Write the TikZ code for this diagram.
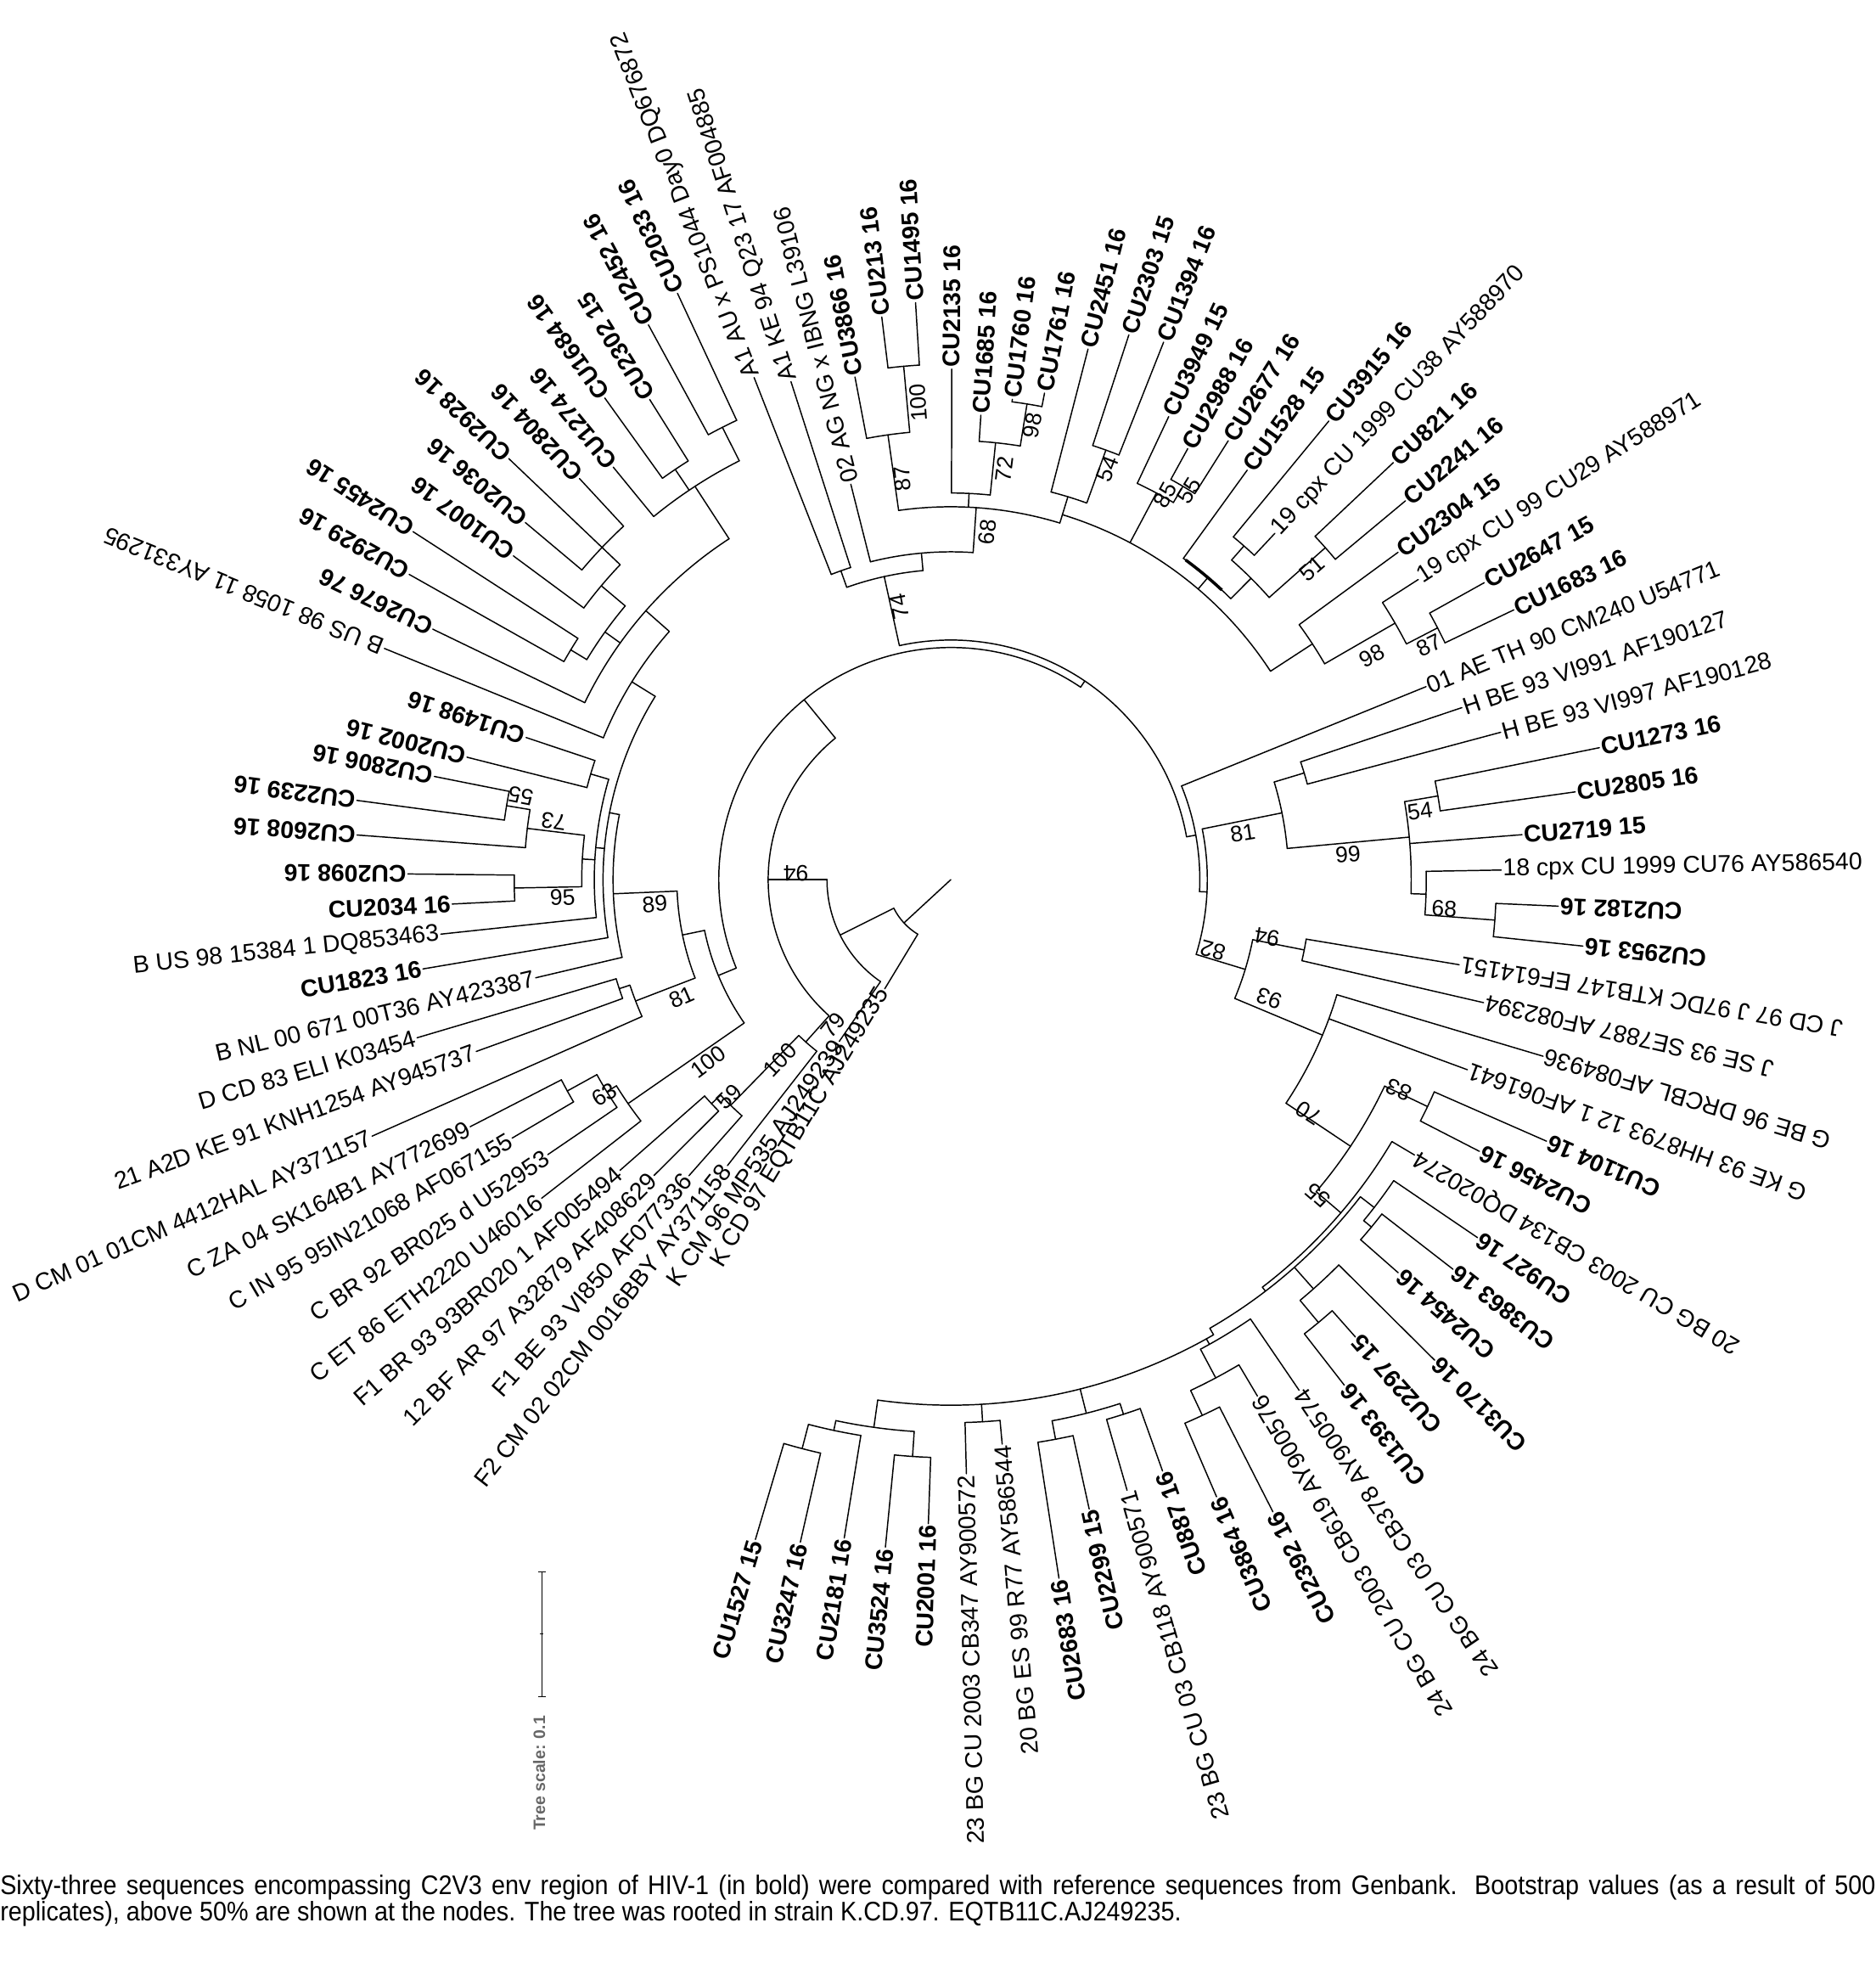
\documentclass[tikz,border=0pt]{standalone}
\usepackage{fontspec}
\setmainfont{Liberation Sans}
\newfontfamily\capfont[FakeStretch=0.907]{Liberation Sans}
\newcommand\labfont{\fontsize{19.3}{21}\selectfont}
\newcommand\bootfont{\fontsize{18}{19}\selectfont}
\definecolor{scg}{gray}{0.4}
\tikzset{
  br/.style={line width=1pt,line cap=round,line join=round},
  lab/.style={inner sep=1.2pt,font=\labfont},
  bsl/.style={inner sep=0pt,font=\bootfont},
}
% leaf: name, angle, parent radius, tip radius, text
\newcommand\tleaf[5]{%
  \draw[br] (#2:#3pt) -- (#2:#4pt);
  \pgfmathsetmacro\tlA{mod(#2+720,360)}%
  \ifdim\tlA pt<180.01pt
    \node[lab,anchor=west,rotate=\tlA] (#1) at (#2:#4pt) {#5};
  \else
    \pgfmathsetmacro\tlB{\tlA-180}%
    \node[lab,anchor=east,rotate=\tlB] (#1) at (#2:#4pt) {#5};
  \fi
}
% internal node: name, stem angle, parent radius, radius, arc from, arc to
\newcommand\tnode[6]{%
  \coordinate (#1) at (#2:#4pt);
  \draw[br] (#2:#3pt) -- (#1);
  \draw[br] (#5:#4pt) arc[start angle=#5, end angle=#6, radius=#4pt];
}
% bootstrap: angle, radius, rotation, text
\newcommand\tboot[4]{\node[bsl,rotate=#3] at (#1:#2pt) {#4};}
\begin{document}
\begin{tikzpicture}[x=1pt,y=1pt]
\fill[white] (-760,-865) rectangle (739,703);
\useasboundingbox (-760,-865) rectangle (739,703);

% ---------- internal nodes ----------
\tnode{root}{222.7}{0}{51}{206.6}{238.8}
\tnode{nA}{206.6}{51}{99}{180}{235.4}
\tnode{n94}{180}{99}{146}{129.2}{228.2}
\tnode{n79}{228.2}{146}{174}{225.7}{232.0}
\tnode{n100f}{225.7}{174}{252}{223.1}{228.5}
\tnode{n59}{223.1}{252}{262}{221.3}{224.9}
\tnode{nP}{129.2}{146}{185.5}{56}{202.4}
\tnode{nL}{202.4}{185.5}{201}{191.65}{214.75}
\tnode{nX}{191.65}{201}{219}{182.4}{201.05}
\tnode{n81l}{201.05}{219}{270}{198.2}{203.9}
\tnode{nd81}{198.2}{270}{279}{196.5}{199.9}
\tnode{nc100}{214.75}{201}{314}{211.65}{217.9}
\tnode{n63}{211.65}{314}{323}{208.85}{214.3}
\tnode{nczi}{208.85}{323}{350}{207.2}{210.5}
\tnode{n89}{182.4}{219}{270}{168.9}{193.3}
\tnode{nb1}{168.9}{270}{278}{148.2}{189.6}
\tnode{nb3}{174.85}{278}{285}{163.65}{186.1}
\tnode{nb2}{176.8}{285}{295}{173.1}{181.1}
\tnode{n95}{181.1}{295}{349}{179.4}{182.8}
\tnode{n73}{173.1}{295}{341}{170.55}{175.7}
\tnode{n55l}{170.55}{341}{360}{168.7}{172.4}
\tnode{nb7}{163.65}{285}{300}{161.5}{165.8}
\tnode{nb6}{148.2}{278}{300}{138.6}{157.8}
\tnode{nb8}{138.6}{300}{325}{123.05}{154.2}
\tnode{nb9}{144.4}{325}{340}{139.95}{148.85}
\tnode{nb10}{148.85}{340}{355}{147.1}{150.6}
\tnode{nb11}{139.95}{340}{365}{136.4}{143.5}
\tnode{nb12}{136.4}{365}{385}{132.8}{140.0}
\tnode{nb13}{123.05}{325}{375}{116.8}{129.3}
\tnode{nb14}{123.9}{375}{395}{122.1}{125.7}
\tnode{nb15}{116.8}{375}{405}{115.0}{118.6}
\tnode{nR}{56}{185.5}{191.5}{10.3}{102.4}
\tnode{n74}{102.4}{191.5}{248}{95.15}{109.6}
\tnode{nA1}{109.6}{248}{262}{107.8}{111.4}
\tnode{nBg}{95.15}{248}{262}{86.1}{104.2}
\tnode{n68}{86.1}{262}{298}{73.0}{98.05}
\tnode{n87}{98.05}{298}{359}{95.25}{100.8}
\tnode{n100}{95.25}{359}{412}{93.5}{97.0}
\tnode{nDt}{87.3}{298}{309}{84.15}{89.9}
\tnode{n72}{84.15}{309}{351}{80.9}{86.3}
\tnode{n98}{80.9}{351}{385}{79.1}{82.7}
\tnode{ncp}{73.0}{298}{305}{33.1}{73.0}
\tnode{nC}{73.0}{305}{320}{70.15}{75.5}
\tnode{n54}{70.15}{320}{365}{68.4}{71.9}
\tnode{n85}{62.0}{305}{350}{59.45}{64.8}
\tnode{n55t}{59.45}{350}{365}{57.7}{61.2}
\tnode{nK}{49.6}{305}{317}{45.1}{54.1}
\draw[line width=2.4pt] (46.9:317pt) arc[start angle=46.9, end angle=53.7, radius=317pt];
\tnode{nH}{45.1}{317}{340}{41.55}{48.7}
\tnode{nG}{48.7}{340}{355}{46.9}{50.5}
\tnode{n51}{41.55}{340}{400}{39.8}{43.3}
\tnode{nI}{33.1}{305}{345}{30.0}{36.2}
\tnode{n98r}{30.0}{345}{410}{27.35}{32.7}
\tnode{n87r}{27.35}{410}{438}{25.6}{29.1}
\tnode{nRS}{10.3}{191.5}{199}{-2.75}{22.1}
\tnode{nRS2}{-2.75}{199}{205}{-16.95}{11.4}
\tnode{n81r}{11.4}{205}{270}{5.3}{16.8}
\tnode{nHb}{16.8}{270}{295}{15.0}{18.6}
\tnode{n99}{5.3}{270}{368}{-1.75}{9.75}
\tnode{n54r}{9.75}{368}{395}{8.0}{11.5}
\tnode{n18}{-1.75}{368}{380}{-4.25}{1.0}
\tnode{n68r}{-4.25}{380}{436}{-6.0}{-2.5}
\tnode{n82}{-16.95}{205}{246}{-22.7}{-11.25}
\tnode{n94r}{-11.25}{246}{288}{-13.0}{-9.5}
\tnode{n93}{-22.7}{246}{322}{-33.7}{-16.6}
\tnode{n70}{-33.7}{322}{384}{-40.5}{-25.45}
\tnode{n83}{-25.45}{384}{422}{-27.2}{-23.7}
\tnode{n55r}{-40.5}{384}{410}{-52.6}{-30.7}
\tnode{nL1}{-52.6}{410}{414}{-60}{-37.75}
\tnode{nT1}{-37.75}{414}{428}{-39.55}{-34.2}
\tnode{nT2}{-39.55}{428}{436}{-41.3}{-37.8}
\tnode{nM2}{-48.45}{414}{437}{-50.3}{-44.8}
\tnode{nT3}{-50.3}{437}{460}{-52.1}{-48.5}
\tnode{nL2}{-60}{414}{420}{-98}{-60}
\tnode{nT4}{-60.9}{420}{425}{-62}{-55.7}
\tnode{nT5}{-62}{425}{451}{-64.85}{-59.3}
\tnode{nT6}{-64.85}{451}{473}{-66.7}{-63.0}
\tnode{nN}{-75.75}{420}{440}{-79.4}{-72.1}
\tnode{nT7}{-79.4}{440}{455}{-81.2}{-77.6}
\tnode{nT8}{-72.1}{440}{449}{-73.9}{-70.3}
\tnode{nT9}{-86.65}{420}{434}{-88.5}{-84.8}
\tnode{nT13}{-98}{420}{442}{-102}{-93.8}
\tnode{nT11}{-102}{442}{450}{-104.65}{-99.2}
\tnode{nT10}{-104.65}{450}{470}{-106.5}{-102.8}
\tnode{nT12}{-93.8}{442}{462}{-95.6}{-92.0}

% ---------- leaves ----------
\tleaf{l00}{-106.5}{470}{550}{\textbf{CU1527 15}}
\tleaf{l01}{-102.8}{470}{543}{\textbf{CU3247 16}}
\tleaf{l02}{-99.2}{450}{533}{\textbf{CU2181 16}}
\tleaf{l03}{-95.6}{462}{536}{\textbf{CU3524 16}}
\tleaf{l04}{-92.0}{462}{515}{\textbf{CU2001 16}}
\tleaf{l05}{-88.5}{434}{475}{23 BG CU 2003 CB347 AY900572}
\tleaf{l06}{-84.8}{434}{453}{20 BG ES 99 R77 AY586544}
\tleaf{l07}{-81.2}{455}{565}{\textbf{CU2683 16}}
\tleaf{l08}{-77.6}{455}{515}{\textbf{CU2299 15}}
\tleaf{l09}{-73.9}{449}{508}{23 BG CU 03 CB118 AY900571}
\tleaf{l10}{-70.3}{449}{502}{\textbf{CU887 16}}
\tleaf{l11}{-66.7}{473}{537}{\textbf{CU3864 16}}
\tleaf{l12}{-63.0}{473}{567}{\textbf{CU2392 16}}
\tleaf{l13}{-59.3}{451}{480}{24 BG CU 2003 CB619 AY900576}
\tleaf{l14}{-55.7}{425}{494}{24 BG CU 03 CB378 AY900574}
\tleaf{l15}{-52.1}{460}{512}{\textbf{CU1393 16}}
\tleaf{l16}{-48.5}{460}{488}{\textbf{CU2297 15}}
\tleaf{l17}{-44.8}{437}{545}{\textbf{CU3170 16}}
\tleaf{l18}{-41.3}{436}{476}{\textbf{CU2454 16}}
\tleaf{l19}{-37.8}{436}{508}{\textbf{CU3863 16}}
\tleaf{l20}{-34.2}{428}{509}{\textbf{CU927 16}}
\tleaf{l21}{-30.7}{410}{431}{20 BG CU 2003 CB134 DQ020274}
\tleaf{l22}{-27.2}{422}{475}{\textbf{CU2456 16}}
\tleaf{l23}{-23.7}{422}{520}{\textbf{CU1104 16}}
\tleaf{l24}{-20.2}{322}{440}{G KE 93 HH8793 12 1 AF061641}
\tleaf{l25}{-16.6}{322}{494}{G BE 96 DRCBL AF084936}
\tleaf{l26}{-13.0}{288}{437}{J SE 93 SE7887 AF082394}
\tleaf{l27}{-9.5}{288}{412}{J CD 97 J 97DC KTB147 EF614151}
\tleaf{l28}{-6.0}{436}{508}{\textbf{CU2953 16}}
\tleaf{l29}{-2.5}{436}{486}{\textbf{CU2182 16}}
\tleaf{l30}{1.0}{380}{440}{18 cpx CU 1999 CU76 AY586540}
\tleaf{l31}{4.5}{368}{458}{\textbf{CU2719 15}}
\tleaf{l32}{8.0}{395}{504}{\textbf{CU2805 16}}
\tleaf{l33}{11.5}{395}{529}{\textbf{CU1273 16}}
\tleaf{l34}{15.0}{295}{455}{H BE 93 VI997 AF190128}
\tleaf{l35}{18.6}{295}{431}{H BE 93 VI991 AF190127}
\tleaf{l36}{22.1}{199}{410}{01 AE TH 90 CM240 U54771}
\tleaf{l37}{25.6}{438}{499}{\textbf{CU1683 16}}
\tleaf{l38}{29.1}{438}{488}{\textbf{CU2647 15}}
\tleaf{l39}{32.7}{410}{444}{19 cpx CU 99 CU29 AY588971}
\tleaf{l40}{36.2}{345}{443}{\textbf{CU2304 15}}
\tleaf{l41}{39.8}{400}{473}{\textbf{CU2241 16}}
\tleaf{l42}{43.3}{400}{486}{\textbf{CU821 16}}
\tleaf{l43}{46.9}{355}{379}{19 cpx CU 1999 CU38 AY588970}
\tleaf{l44}{50.5}{355}{475}{\textbf{CU3915 16}}
\tleaf{l45}{54.1}{317}{404}{\textbf{CU1528 15}}
\tleaf{l46}{57.7}{365}{415}{\textbf{CU2677 16}}
\tleaf{l47}{61.2}{365}{393}{\textbf{CU2988 16}}
\tleaf{l48}{64.8}{350}{409}{\textbf{CU3949 15}}
\tleaf{l49}{68.4}{365}{462}{\textbf{CU1394 16}}
\tleaf{l50}{71.9}{365}{458}{\textbf{CU2303 15}}
\tleaf{l51}{75.5}{320}{438}{\textbf{CU2451 16}}
\tleaf{l52}{79.1}{385}{396}{\textbf{CU1761 16}}
\tleaf{l53}{82.7}{385}{387}{\textbf{CU1760 16}}
\tleaf{l54}{86.3}{351}{372}{\textbf{CU1685 16}}
\tleaf{l55}{89.9}{309}{408}{\textbf{CU2135 16}}
\tleaf{l56}{93.5}{412}{462}{\textbf{CU1495 16}}
\tleaf{l57}{97.0}{412}{453}{\textbf{CU213 16}}
\tleaf{l58}{100.8}{359}{409}{\textbf{CU3866 16}}
\tleaf{l59}{104.2}{262}{326}{02 AG NG x IBNG L39106}
\tleaf{l60}{107.8}{262}{418}{A1 KE 94 Q23 17 AF004885}
\tleaf{l61}{111.4}{262}{431}{A1 AU x PS1044 Day0 DQ676872}
\tleaf{l62}{115.0}{405}{517}{\textbf{CU2033 16}}
\tleaf{l63}{118.6}{405}{505}{\textbf{CU2452 16}}
\tleaf{l64}{122.1}{395}{453}{\textbf{CU2302 15}}
\tleaf{l65}{125.7}{395}{474}{\textbf{CU1684 16}}
\tleaf{l66}{129.3}{375}{426}{\textbf{CU1274 16}}
\tleaf{l67}{132.8}{385}{437}{\textbf{CU2804 16}}
\tleaf{l68}{136.4}{385}{488}{\textbf{CU2928 16}}
\tleaf{l69}{140.0}{385}{444}{\textbf{CU2036 16}}
\tleaf{l70}{143.5}{365}{435}{\textbf{CU1007 16}}
\tleaf{l71}{147.1}{355}{512}{\textbf{CU2455 16}}
\tleaf{l72}{150.6}{355}{497}{\textbf{CU2929 16}}
\tleaf{l73}{154.2}{325}{460}{\textbf{CU2676 76}}
\tleaf{l74}{157.8}{300}{489}{B US 98 1058 11 AY331295}
\tleaf{l75}{161.5}{300}{358}{\textbf{CU1498 16}}
\tleaf{l76}{165.8}{300}{399}{\textbf{CU2002 16}}
\tleaf{l77}{168.7}{360}{421}{\textbf{CU2806 16}}
\tleaf{l78}{172.4}{360}{479}{\textbf{CU2239 16}}
\tleaf{l79}{175.7}{341}{476}{\textbf{CU2608 16}}
\tleaf{l80}{179.4}{349}{434}{\textbf{CU2098 16}}
\tleaf{l81}{182.8}{349}{399}{\textbf{CU2034 16}}
\tleaf{l82}{186.1}{285}{410}{B US 98 15384 1 DQ853463}
\tleaf{l83}{189.6}{278}{428}{\textbf{CU1823 16}}
\tleaf{l84}{193.3}{270}{341}{B NL 00 671 00T36 AY423387}
\tleaf{l85}{196.5}{279}{445}{D CD 83 ELI K03454}
\tleaf{l86}{199.9}{279}{403.5}{21 A2D KE 91 KNH1254 AY945737}
\tleaf{l87}{203.9}{270}{506}{D CM 01 01CM 4412HAL AY371157}
\tleaf{l88}{207.2}{350}{432}{C ZA 04 SK164B1 AY772699}
\tleaf{l89}{210.5}{350}{407}{C IN 95 95IN21068 AF067155}
\tleaf{l90}{214.3}{323}{390}{C BR 92 BR025 d U52953}
\tleaf{l91}{217.9}{314}{414.5}{C ET 86 ETH2220 U46016}
\tleaf{l92}{221.3}{262}{352}{F1 BR 93 93BR020 1 AF005494}
\tleaf{l93}{224.9}{262}{335}{12 BF AR 97 A32879 AF408629}
\tleaf{l94}{228.5}{252}{316}{F1 BE 93 VI850 AF077336}
\tleaf{l95}{232.0}{174}{290}{F2 CM 02 02CM 0016BBY AY371158}
\tleaf{l96}{235.4}{99}{157}{K CM 96 MP535 AJ249239}
\tleaf{l97}{238.8}{51}{102}{K CD 97 EQTB11C AJ249235}

% ---------- bootstrap values ----------
\tboot{177.5}{124}{180}{94}
\tboot{100.6}{222}{101}{74}
\tboot{84.0}{279.4}{84}{68}
\tboot{96.9}{323}{97}{87}
\tboot{93.9}{382}{94}{100}
\tboot{82.6}{331}{83}{72}
\tboot{79.8}{368.8}{80}{98}
\tboot{69.1}{351.3}{69}{54}
\tboot{60.9}{351.8}{61}{85}
\tboot{58.5}{364.5}{58}{55}
\tboot{40.7}{380.8}{41}{51}
\tboot{28.0}{381.2}{28}{98}
\tboot{26.1}{425.9}{26}{87}
\tboot{9.1}{236.3}{9}{81}
\tboot{3.6}{318}{4}{99}
\tboot{8.3}{379}{8}{54}
\tboot{-3.4}{395}{-3}{68}
\tboot{-15.1}{216.9}{165}{82}
\tboot{-10.3}{256.8}{170}{94}
\tboot{-20.4}{272}{160}{93}
\tboot{-33.1}{341.7}{147}{70}
\tboot{-25.1}{395.5}{155}{83}
\tboot{-40.7}{387}{139}{55}
\tboot{184.7}{237.4}{4.7}{89}
\tboot{203.6}{234.8}{23.6}{81}
\tboot{216.9}{242.5}{36.9}{100}
\tboot{211.8}{326}{31.8}{63}
\tboot{224.4}{248}{44.4}{59}
\tboot{226.5}{198.6}{46.5}{100}
\tboot{231.1}{149.6}{51}{79}
\tboot{182.6}{310.7}{2.6}{95}
\tboot{171.7}{320.8}{171.7}{73}
\tboot{169.0}{350.2}{169}{55}

% ---------- tree scale ----------
\coordinate (sct) at (-327,-553);
\coordinate (scb) at (-327,-653);
\draw[line width=0.9pt] (sct) -- (scb);
\draw[line width=0.9pt] ([xshift=-3pt]sct) -- ([xshift=3pt]sct);
\draw[line width=0.9pt] ([xshift=-3pt]scb) -- ([xshift=3pt]scb);
\draw[line width=0.6pt] (-328.5,-603) -- (-325.5,-603);
\node[rotate=90,inner sep=0pt,text=scg,font=\bfseries\fontsize{13.2}{14}\selectfont] (sclab) at (-329,-714) {Tree scale: 0.1};

% ---------- caption ----------
\node[anchor=base west,inner sep=0pt,font=\capfont\fontsize{21.5}{22}\selectfont] (cap1) at (-760,-811) {\makebox[1499pt][s]{Sixty-three sequences encompassing C2V3 env region of HIV-1 (in bold) were compared with reference sequences from Genbank. Bootstrap values (as a result of 500}};
\node[anchor=base west,inner sep=0pt,font=\capfont\fontsize{21.5}{22}\selectfont] (cap2) at (-760,-832) {replicates), above 50\% are shown at the nodes. The tree was rooted in strain K.CD.97. EQTB11C.AJ249235.};
\end{tikzpicture}
\end{document}
